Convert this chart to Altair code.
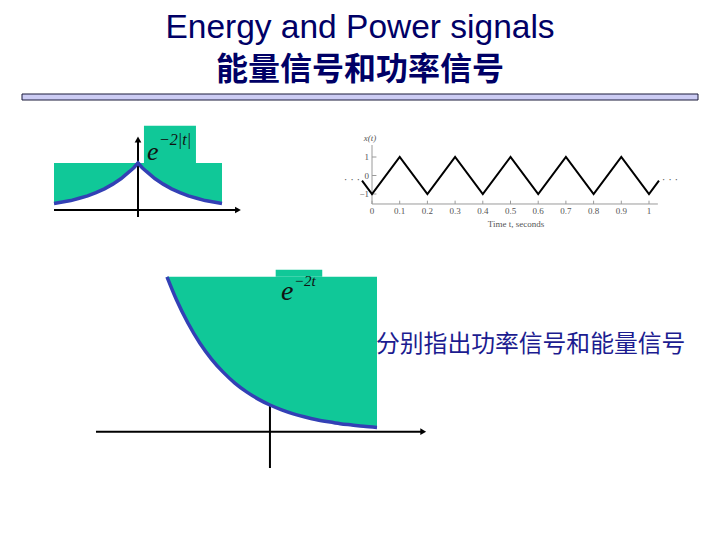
import altair as alt
import pandas as pd

# ---------------- data ----------------
# Panel 1 : e^{-2|t|}
p1_t = [-1.0, -0.9, -0.8, -0.7, -0.6, -0.5, -0.4, -0.3, -0.2, -0.1, -0.05, 0.0,
        0.05, 0.1, 0.2, 0.3, 0.4, 0.5, 0.6, 0.7, 0.8, 0.9, 1.0]
p1_v = [0.14, 0.17, 0.20, 0.25, 0.30, 0.37, 0.45, 0.55, 0.67, 0.82, 0.90, 1.0,
        0.90, 0.82, 0.67, 0.55, 0.45, 0.37, 0.30, 0.25, 0.20, 0.17, 0.14]
p1_top = 1.0

# Panel 2 : periodic triangle wave x(t)
p2_t = [-0.036, 0.0, 0.1, 0.2, 0.3, 0.4, 0.5, 0.6, 0.7, 0.8, 0.9, 1.0, 1.036]
p2_v = [-0.28, -1, 1, -1, 1, -1, 1, -1, 1, -1, 1, -1, -0.28]
p2_xticks = [0.0, 0.1, 0.2, 0.3, 0.4, 0.5, 0.6, 0.7, 0.8, 0.9, 1.0]
p2_xlabels = ["0", "0.1", "0.2", "0.3", "0.4", "0.5", "0.6", "0.7", "0.8", "0.9", "1"]
p2_yticks = [-1, 0, 1]
p2_ylabels = ["\u22121", "0", "1"]

# Panel 3 : e^{-2t}
p3_t = [-0.88, -0.8, -0.7, -0.6, -0.5, -0.4, -0.3, -0.2, -0.1, 0.0,
        0.1, 0.2, 0.3, 0.4, 0.5, 0.6, 0.7, 0.8, 0.915]
p3_v = [5.8, 4.95, 4.06, 3.32, 2.72, 2.23, 1.82, 1.49, 1.22, 1.0,
        0.82, 0.67, 0.55, 0.45, 0.37, 0.30, 0.25, 0.20, 0.16]
p3_top = 5.8

title_en = "Energy and Power signals"
title_zh = "能量信号和功率信号"
side_text = "分别指出功率信号和能量信号"
p2_ylabel = "x(t)"
p2_xlabel = "Time t, seconds"

# ---------------- styling / layout ----------------
GREEN = "#10C898"
BLUE = "#3340B5"
NAVY = "#000066"

PANELS = {
    1: dict(xd=[-1, 1], xr=[46, 214], yd=[0, 1], yr=[202, 155]),
    2: dict(xd=[0, 1], xr=[364, 641], yd=[-1, 1], yr=[186, 149]),
    3: dict(xd=[-0.88, 0.915], xr=[159, 369], yd=[0, 5.8], yr=[423.7, 268.8]),
}


def X(p, field="t"):
    s = PANELS[p]
    return alt.X(field, type="quantitative", axis=None,
                 scale=alt.Scale(domain=s["xd"], range=s["xr"], zero=False, nice=False))


def Y(p, field="v"):
    s = PANELS[p]
    return alt.Y(field, type="quantitative", axis=None,
                 scale=alt.Scale(domain=s["yd"], range=s["yr"], zero=False, nice=False))


def df(**cols):
    return pd.DataFrame(cols)


layers = []

# ---- slide header ----
layers.append(alt.Chart(df(a=[0])).mark_text(
    text=title_en, font="Liberation Sans", fontSize=33.5, color=NAVY,
    align="center", baseline="alphabetic").encode(x=alt.value(352), y=alt.value(29.5)))
layers.append(alt.Chart(df(a=[0])).mark_text(
    text=title_zh, font="Noto Sans CJK SC", fontSize=32, fontWeight="bold", color=NAVY,
    align="center", baseline="middle").encode(x=alt.value(352), y=alt.value(61.5)))
layers.append(alt.Chart(df(a=[0])).mark_rect(
    fill="#CCCCF4", stroke="#1a1a3a", strokeWidth=1).encode(
    x=alt.value(14), x2=alt.value(690), y=alt.value(86), y2=alt.value(92)))

# ---- panel 1 ----
d1 = df(t=p1_t, v=p1_v, top=[p1_top] * len(p1_t))
layers.append(alt.Chart(d1).mark_area(color=GREEN).encode(x=X(1), y=Y(1), y2=alt.Y2("top")))
layers.append(alt.Chart(df(t=[0.071], t2=[0.69], v=[1.0], v2=[1.79])).mark_rect(color=GREEN).encode(
    x=X(1), x2=alt.X2("t2"), y=Y(1), y2=alt.Y2("v2")))
layers.append(alt.Chart(df(t=[-1.0], t2=[1.18], v=[0])).mark_rule(color="black", strokeWidth=2).encode(
    x=X(1), x2=alt.X2("t2"), y=Y(1)))
layers.append(alt.Chart(df(t=[0], v=[-0.15], v2=[1.47])).mark_rule(color="black", strokeWidth=2).encode(
    x=X(1), y=Y(1), y2=alt.Y2("v2")))
layers.append(alt.Chart(df(t=[0], v=[1.5])).mark_point(shape="triangle-up", filled=True, color="black",
                                                        size=45, opacity=1).encode(x=X(1), y=Y(1)))
layers.append(alt.Chart(df(t=[1.19], v=[0])).mark_point(shape="triangle-right", filled=True, color="black",
                                                         size=45, opacity=1).encode(x=X(1), y=Y(1)))
layers.append(alt.Chart(d1).mark_line(color=BLUE, strokeWidth=3.5).encode(x=X(1), y=Y(1)))
layers.append(alt.Chart(df(a=[0])).mark_text(text="e", font="Liberation Serif", fontStyle="italic",
                                             fontSize=26, align="left", baseline="alphabetic",
                                             color="#111").encode(x=alt.value(139), y=alt.value(152)))
layers.append(alt.Chart(df(a=[0])).mark_text(text="\u22122|t|", font="Liberation Serif", fontStyle="italic",
                                             fontSize=16, align="left", baseline="alphabetic",
                                             color="#111").encode(x=alt.value(151), y=alt.value(137)))

# ---- panel 2 ----
d2 = df(t=p2_t, v=p2_v)
GRAY = "#9a9a9a"
layers.append(alt.Chart(df(t=[0], t2=[1.032], v=[-1.54])).mark_rule(color=GRAY, strokeWidth=1).encode(
    x=X(2), x2=alt.X2("t2"), y=Y(2)))
layers.append(alt.Chart(df(t=[0], v=[-1.54], v2=[1.65])).mark_rule(color=GRAY, strokeWidth=1).encode(
    x=X(2), y=Y(2), y2=alt.Y2("v2")))
layers.append(alt.Chart(df(t=p2_xticks, v=[-1.54] * len(p2_xticks), v2=[-1.36] * len(p2_xticks)))
              .mark_rule(color=GRAY, strokeWidth=1).encode(x=X(2), y=Y(2), y2=alt.Y2("v2")))
layers.append(alt.Chart(df(v=p2_yticks, t=[0] * 3, t2=[0.016] * 3))
              .mark_rule(color=GRAY, strokeWidth=1).encode(x=X(2), x2=alt.X2("t2"), y=Y(2)))
layers.append(alt.Chart(df(t=p2_xticks, lab=p2_xlabels)).mark_text(
    font="Liberation Serif", fontSize=9, color="#555", baseline="middle").encode(
    x=X(2), y=alt.value(203), text="lab:N"))
layers.append(alt.Chart(df(v=p2_yticks, lab=p2_ylabels)).mark_text(
    font="Liberation Serif", fontSize=9, color="#555", align="right", baseline="middle").encode(
    x=alt.value(361), y=Y(2), text="lab:N"))
layers.append(alt.Chart(df(a=[0])).mark_text(text=p2_ylabel, font="Liberation Serif", fontStyle="italic",
                                             fontSize=9, color="#555", baseline="middle").encode(
    x=alt.value(362), y=alt.value(130)))
layers.append(alt.Chart(df(a=[0])).mark_text(text=p2_xlabel, font="Liberation Serif",
                                             fontSize=9, color="#555", baseline="middle").encode(
    x=alt.value(508), y=alt.value(216)))
layers.append(alt.Chart(df(a=[0])).mark_text(text="\u00b7 \u00b7 \u00b7", font="Liberation Serif",
                                             fontSize=11, color="#555", baseline="middle").encode(
    x=alt.value(344), y=alt.value(172)))
layers.append(alt.Chart(df(a=[0])).mark_text(text="\u00b7 \u00b7 \u00b7", font="Liberation Serif",
                                             fontSize=11, color="#555", baseline="middle").encode(
    x=alt.value(662), y=alt.value(172)))
layers.append(alt.Chart(d2).mark_line(color="black", strokeWidth=2).encode(x=X(2), y=Y(2)))

# ---- panel 3 ----
d3 = df(t=p3_t, v=p3_v, top=[p3_top] * len(p3_t))
layers.append(alt.Chart(df(t=[-1.487], t2=[1.30], v=[0])).mark_rule(color="black", strokeWidth=2).encode(
    x=X(3), x2=alt.X2("t2"), y=Y(3)))
layers.append(alt.Chart(df(t=[1.31], v=[0])).mark_point(shape="triangle-right", filled=True, color="black",
                                                         size=45, opacity=1).encode(x=X(3), y=Y(3)))
layers.append(alt.Chart(df(t=[0], v=[-1.36], v2=[1.0])).mark_rule(color="black", strokeWidth=2).encode(
    x=X(3), y=Y(3), y2=alt.Y2("v2")))
layers.append(alt.Chart(d3).mark_area(color=GREEN, interpolate="monotone").encode(
    x=X(3), y=Y(3), y2=alt.Y2("top")))
layers.append(alt.Chart(df(t=[0.049], t2=[0.447], v=[5.8], v2=[6.06])).mark_rect(color=GREEN).encode(
    x=X(3), x2=alt.X2("t2"), y=Y(3), y2=alt.Y2("v2")))
layers.append(alt.Chart(d3).mark_line(color=BLUE, strokeWidth=3.5, interpolate="monotone").encode(
    x=X(3), y=Y(3)))
layers.append(alt.Chart(df(a=[0])).mark_text(text="e", font="Liberation Serif", fontStyle="italic",
                                             fontSize=28, align="left", baseline="alphabetic",
                                             color="#111").encode(x=alt.value(273), y=alt.value(292)))
layers.append(alt.Chart(df(a=[0])).mark_text(text="\u22122t", font="Liberation Serif", fontStyle="italic",
                                             fontSize=15, align="left", baseline="alphabetic",
                                             color="#111").encode(x=alt.value(286), y=alt.value(278)))

# ---- side text ----
layers.append(alt.Chart(df(a=[0])).mark_text(text=side_text, font="Noto Sans CJK SC", fontSize=23.8,
                                             color="#1c1c90", align="left", baseline="middle").encode(
    x=alt.value(368), y=alt.value(337)))

chart = (alt.layer(*layers)
         .resolve_scale(x="independent", y="independent")
         .properties(width=704, height=524, autosize="none", padding=0)
         .configure_view(stroke=None))

chart.save("out.html", embed_options={"renderer": "svg", "actions": False})
